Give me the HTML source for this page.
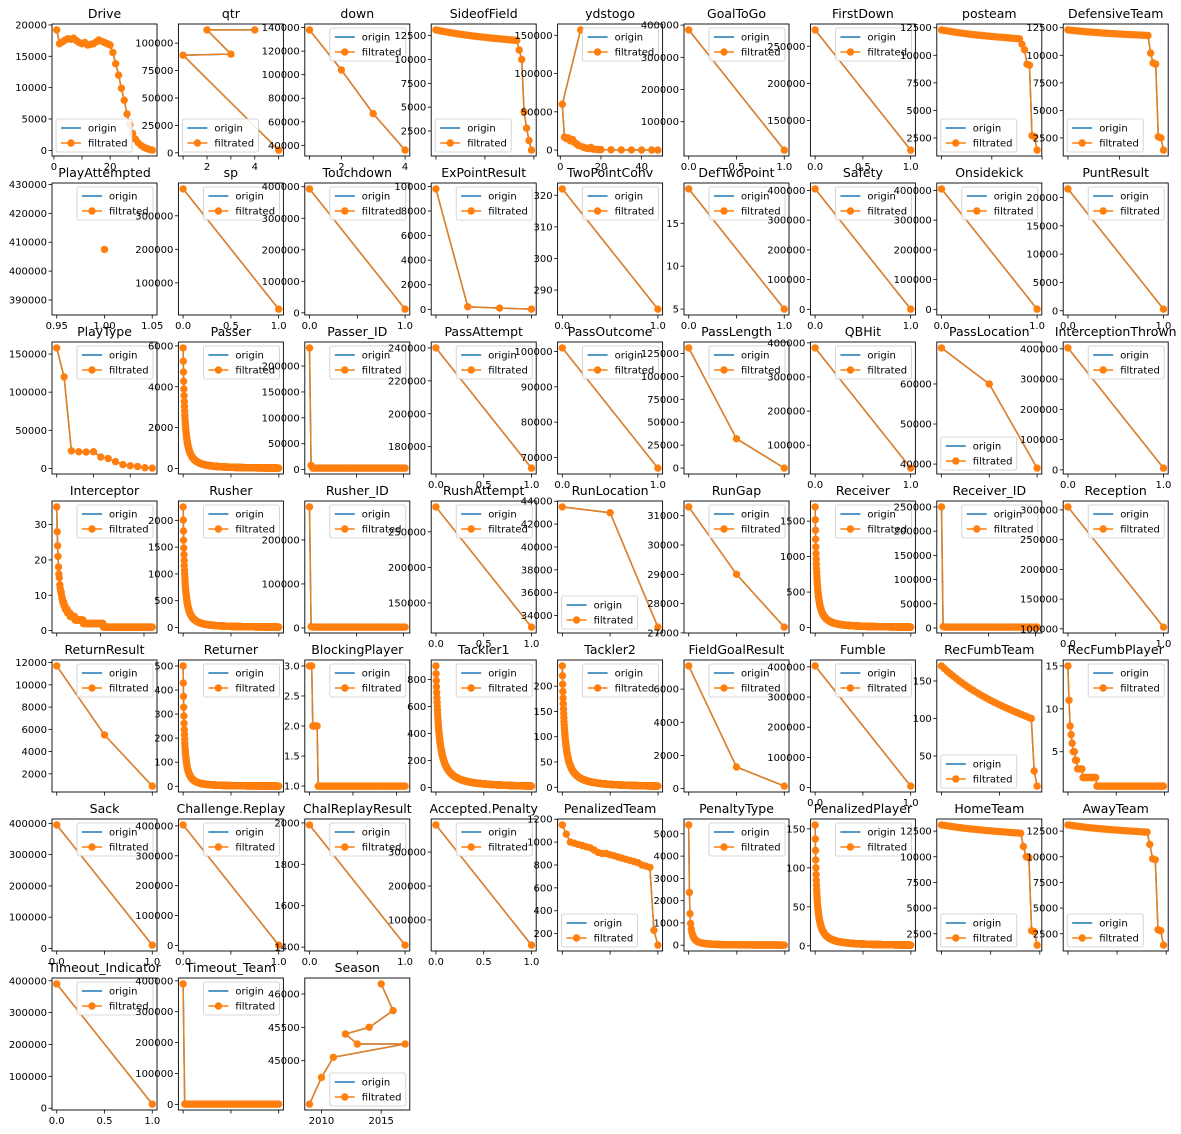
<!DOCTYPE html>
<html><head><meta charset="utf-8">
<style>
html,body{margin:0;padding:0;background:#fff;}
svg{display:block;font-family:"DejaVu Sans","Liberation Sans",sans-serif;}
</style></head>
<body>
<svg id="s" width="1181" height="1134" xmlns="http://www.w3.org/2000/svg">
<text x="0" y="-10">.</text>
</svg>
<script>
var S=document.getElementById('s');
var W=105,H=132;
function L(c){return 52+126.4*c;}
function T(r){return 24+159*r;}
function decay(mx,n,a,p,floor){var o=[];n=Math.round(n*2.5);a=a*2.5;for(var i=0;i<n;i++){o.push([i,Math.max(floor||0,mx*Math.pow(1+i/a,-p))]);}return o;}
function steps(mx,n,a,p){var o=[];for(var i=0;i<n;i++){o.push([i,Math.max(1,Math.round(mx*Math.pow(1+i/a,-p)))]);}return o;}
function slope(vals){return vals.map(function(v,i){return [i,v];});}
function gradual(a,b,n,tail){var o=[];for(var i=0;i<n;i++){var t=i/(n-1);o.push(a-(a-b)*(0.7*t+0.3*(1-Math.pow(1-t,3))));}return slope(o.concat(tail));}
function two(a,b){return [[0,a],[1,b]];}
var P=[];
function add(t,pts,xt,yt,leg,opt){P.push({t:t,pts:pts,xt:xt,yt:yt,leg:leg||'ur',o:opt||{}});}
function rng(a,b,s){var o=[];for(var v=a;v<=b+1e-9;v+=s)o.push(v);return o;}
var X01=[[0,'0.0'],[0.5,'0.5'],[1,'1.0']];
var X01b=[[0,'0.0'],[0.5,''],[1,'1.0']];
add('Drive',slope([19200,17000,17300,17600,17800,17700,17900,17500,17200,17000,17200,16800,16900,17000,17300,17600,17400,17200,17000,16800,15600,13800,12000,9900,8000,5800,4100,2700,1800,1200,800,500,300,150,50]).map(function(p){return [p[0]+1,p[1]];}),[[0,'0'],[10,''],[20,'20'],[30,'']],rng(0,20000,5000),'ll');
add('qtr',[[4,112000],[2,112000],[3,90000],[1,89000],[5,2500]],[[1,''],[2,'2'],[3,''],[4,'4'],[5,'']],rng(0,100000,25000),'ll');
add('down',[[1,138000],[2,104000],[3,67000],[4,36000]],[[1,''],[2,'2'],[3,''],[4,'4']],rng(40000,140000,20000),'ur');
add('SideofField',gradual(13100,12000,34,[11000,10000,4500,2800,1500,500]),[[0,''],[20,''],[40,'']],rng(2500,12500,2500),'ll');
add('ydstogo',[[10,157000],[1,60000],[2,17000],[3,15000],[4,16000],[5,12000],[6,14000],[7,10000],[8,8000],[9,6000],[11,4000],[12,3000],[13,2500],[14,2000],[15,3500],[16,1500],[17,1000],[18,900],[19,800],[20,700],[25,400],[30,300],[35,200],[40,120],[45,80],[48,50]],[[0,'0'],[20,'20'],[40,'40']],rng(0,150000,50000),'ur');
add('GoalToGo',two(385000,12000),X01,rng(100000,400000,100000));
add('FirstDown',two(272000,110000),X01,rng(150000,250000,50000));
add('posteam',gradual(12300,11500,32,[11000,10500,9200,9100,2700,2600,1400]),[[0,''],[20,''],[40,'']],rng(2500,12500,2500),'ll');
add('DefensiveTeam',gradual(12300,11800,32,[10200,9300,9200,2600,2500,1400]),[[0,''],[20,''],[40,'']],rng(2500,12500,2500),'ll');
add('PlayAttempted',[[1,407500]],[[0.95,'0.95'],[1,'1.00'],[1.05,'1.05']],rng(390000,430000,10000),'ur',{xl:[0.945,1.055],yl:[384800,430500]});
add('sp',two(380000,22000),X01,rng(100000,300000,100000));
add('Touchdown',two(393000,12000),X01b,rng(0,400000,100000));
add('ExPointResult',[[0,9800],[1,200],[2,100],[3,20]],[[0,''],[1,''],[2,''],[3,'']],rng(0,10000,2000));
add('TwoPointConv',two(322,284),X01b,rng(290,320,10));
add('DefTwoPoint',two(19,5),X01b,rng(5,15,5));
add('Safety',two(405000,1000),X01b,rng(0,400000,100000));
add('Onsidekick',two(405000,1000),X01b,rng(0,400000,100000));
add('PuntResult',two(21500,300),X01b,rng(0,20000,5000));
add('PlayType',slope([158000,120000,23000,22000,21500,22000,15000,13000,9000,5000,3500,2500,1000,500]),[[0,''],[5,''],[10,'']],rng(0,150000,50000));
add('Passer',decay(5900,200,5,1.5),[[0,''],[250,''],[500,'']],rng(0,6000,2000));
add('Passer_ID',[[0,235000],[1,8000]].concat(slope(new Array(60).fill(3000)).map(function(p){return [p[0]+2,p[1]];})),[[0,''],[30,''],[60,'']],rng(0,250000,50000));
add('PassAttempt',two(240000,167000),X01,rng(180000,240000,20000));
add('PassOutcome',two(101000,67000),X01b,rng(70000,100000,10000));
add('PassLength',[[0,131000],[1,32000],[2,0]],[[0,''],[1,''],[2,'']],rng(0,125000,25000));
add('QBHit',two(385000,33000),X01b,rng(100000,400000,100000));
add('PassLocation',[[0,69000],[1,60000],[2,39000]],[[0,''],[1,''],[2,'']],rng(40000,60000,10000),'ll');
add('InterceptionThrown',two(403000,6000),X01b,rng(0,400000,100000));
add('Interceptor',steps(35,220,4,0.95),[[0,''],[100,''],[200,'']],rng(0,30,10));
add('Rusher',decay(2250,220,5,1.5),[[0,''],[275,''],[550,'']],rng(0,2000,500));
add('Rusher_ID',[[0,275000],[1,3000]].concat(slope(new Array(60).fill(2000)).map(function(p){return [p[0]+2,p[1]];})),[[0,''],[30,''],[60,'']],rng(0,200000,100000));
add('RushAttempt',two(285000,116000),X01,rng(150000,250000,50000));
add('RunLocation',[[0,43500],[1,43000],[2,33000]],[[0,''],[1,''],[2,'']],rng(34000,44000,2000),'ll');
add('RunGap',[[0,31300],[1,29000],[2,27200]],[[0,''],[1,''],[2,'']],rng(27000,31000,1000));
add('Receiver',decay(1700,220,5,1.45),[[0,''],[275,''],[550,'']],rng(0,1500,500));
add('Receiver_ID',[[0,250000],[1,3000]].concat(slope(new Array(60).fill(2000)).map(function(p){return [p[0]+2,p[1]];})),[[0,''],[30,''],[60,'']],rng(0,250000,50000));
add('Reception',two(305000,103000),X01b,rng(100000,300000,50000));
add('ReturnResult',[[0,11700],[1,5500],[2,900]],[[0,''],[1,''],[2,'']],rng(2000,12000,2000));
add('Returner',decay(500,200,4,1.6),[[0,''],[250,''],[500,'']],rng(0,500,100));
add('BlockingPlayer',[[0,3],[1,3],[2,3],[3,2],[4,2],[5,2],[6,2],[7,2],[8,1]].concat(slope(new Array(80).fill(1)).map(function(p){return [p[0]+9,p[1]];})),[[0,''],[40,''],[80,'']],[[1,'1.0'],[1.5,'1.5'],[2,'2.0'],[2.5,'2.5'],[3,'3.0']]);
add('Tackler1',decay(900,200,8,1.35),[[0,''],[250,''],[500,'']],rng(0,800,200));
add('Tackler2',decay(240,200,6,1.3),[[0,''],[250,''],[500,'']],rng(0,200,50));
add('FieldGoalResult',[[0,7400],[1,1300],[2,150]],[[0,''],[1,''],[2,'']],rng(0,6000,2000));
add('Fumble',two(403000,5000),X01b,rng(0,400000,100000));
add('RecFumbTeam',gradual(170,100,32,[30,10]),[[0,''],[20,''],[40,'']],rng(50,150,50),'ll');
add('RecFumbPlayer',steps(15,90,2.2,0.9),[[0,''],[45,''],[90,'']],rng(5,15,5));
add('Sack',two(395000,11000),X01b,rng(0,400000,100000));
add('Challenge.Replay',two(403000,1500),X01b,rng(0,400000,100000));
add('ChalReplayResult',two(1990,1410),X01b,rng(1400,2000,200));
add('Accepted.Penalty',two(380000,26000),X01,rng(100000,300000,100000));
add('PenalizedTeam',slope([1150,1070,1000,990,980,970,960,950,930,910,900,900,890,880,870,860,850,840,830,820,800,790,780,230,100]),[[0,''],[12,''],[24,'']],rng(200,1200,200),'ll');
add('PenaltyType',decay(5400,60,0.5,1.4),[[0,''],[75,''],[150,'']],rng(0,5000,1000));
add('PenalizedPlayer',decay(155,200,4,1.3),[[0,''],[250,''],[500,'']],rng(0,150,50));
add('HomeTeam',gradual(13100,12300,30,[11000,10000,9900,2800,2700,1400]),[[0,''],[18,''],[36,'']],rng(2500,12500,2500),'ll');
add('AwayTeam',gradual(13100,12400,30,[11200,9800,9700,2900,2800,1400]),[[0,''],[18,''],[36,'']],rng(2500,12500,2500),'ll');
add('Timeout_Indicator',two(390000,13000),X01,rng(0,400000,100000));
add('Timeout_Team',[[0,390000]].concat(slope(new Array(60).fill(1000)).map(function(p){return [p[0]+1,p[1]];})),[[0,''],[30,''],[60,'']],rng(0,400000,100000));
add('Season',[[2015,46150],[2016,45750],[2014,45500],[2012,45400],[2013,45250],[2017,45250],[2011,45050],[2010,44750],[2009,44350]],[[2010,'2010'],[2015,'2015']],rng(45000,46000,500),'lr');

var h='';
P.forEach(function(p,i){
 var r=Math.floor(i/9),c=i%9,x0=L(c),y0=T(r);
 var xs=p.pts.map(function(q){return q[0];}),ys=p.pts.map(function(q){return q[1];});
 var xl=p.o.xl,yl=p.o.yl;
 var fx,fy;
 if(xl){fx=function(v){return (v-xl[0])/(xl[1]-xl[0]);};}else{var a=Math.min.apply(0,xs),b=Math.max.apply(0,xs);if(a==b){a-=1;b+=1;}fx=function(v){return 0.045+0.91*(v-a)/(b-a);};}
 if(yl){fy=function(v){return (v-yl[0])/(yl[1]-yl[0]);};}else{var c1=Math.min.apply(0,ys),d=Math.max.apply(0,ys);if(c1==d){c1-=1;d+=1;}fy=function(v){return 0.045+0.91*(v-c1)/(d-c1);};}
 function PX(v){return x0+W*fx(v);} function PY(v){return y0+H*(1-fy(v));}
 var pts=p.pts.map(function(q){return PX(q[0]).toFixed(1)+','+PY(q[1]).toFixed(1);}).join(' ');
 h+='<text x="'+(x0+W/2)+'" y="'+(y0-6)+'" font-size="12.5" text-anchor="middle">'+p.t+'</text>';
 h+='<polyline points="'+pts+'" fill="none" stroke="#1f77b4" stroke-width="1.5"/>';
 h+='<polyline points="'+pts+'" fill="none" stroke="#ff7f0e" stroke-width="1.5" stroke-opacity="0.9"/>';
 p.pts.forEach(function(q){h+='<circle cx="'+PX(q[0]).toFixed(1)+'" cy="'+PY(q[1]).toFixed(1)+'" r="3.7" fill="#ff7f0e"/>';});
 h+='<rect x="'+x0+'" y="'+y0+'" width="'+W+'" height="'+H+'" fill="none" stroke="#000" stroke-width="0.9"/>';
 p.yt.forEach(function(t){var v=Array.isArray(t)?t[0]:t,lab=Array.isArray(t)?t[1]:String(t);var f=fy(v);if(f<-0.01||f>1.01)return;var y=y0+H*(1-f);
  h+='<line x1="'+(x0-3.5)+'" x2="'+x0+'" y1="'+y+'" y2="'+y+'" stroke="#000" stroke-width="0.8"/>';
  h+='<text x="'+(x0-5)+'" y="'+(y+3.5)+'" font-size="10" text-anchor="end">'+lab+'</text>';});
 p.xt.forEach(function(t){var f=fx(t[0]);if(f<-0.01||f>1.01)return;var x=x0+W*f;
  h+='<line x1="'+x+'" x2="'+x+'" y1="'+(y0+H)+'" y2="'+(y0+H+3.5)+'" stroke="#000" stroke-width="0.8"/>';
  if(t[1])h+='<text x="'+x+'" y="'+(y0+H+14)+'" font-size="10" text-anchor="middle">'+t[1]+'</text>';});
 var lw=76,lh=33,lx,ly;
 if(p.leg=='ll'){lx=x0+4;ly=y0+H-4-lh;}else if(p.leg=='lr'){lx=x0+W-4-lw;ly=y0+H-4-lh;}else{lx=x0+W-4-lw;ly=y0+4;}
 h+='<rect x="'+lx+'" y="'+ly+'" width="'+lw+'" height="'+lh+'" rx="2" fill="#fff" fill-opacity="0.85" stroke="#ccc" stroke-width="0.8"/>';
 h+='<line x1="'+(lx+5)+'" x2="'+(lx+25)+'" y1="'+(ly+9)+'" y2="'+(ly+9)+'" stroke="#1f77b4" stroke-width="1.5"/>';
 h+='<text x="'+(lx+32)+'" y="'+(ly+12.5)+'" font-size="10">origin</text>';
 h+='<line x1="'+(lx+5)+'" x2="'+(lx+25)+'" y1="'+(ly+24)+'" y2="'+(ly+24)+'" stroke="#ff7f0e" stroke-width="1.5"/>';
 h+='<circle cx="'+(lx+15)+'" cy="'+(ly+24)+'" r="3.7" fill="#ff7f0e"/>';
 h+='<text x="'+(lx+32)+'" y="'+(ly+27.5)+'" font-size="10">filtrated</text>';
});
S.innerHTML=h;
</script>
</body></html>
